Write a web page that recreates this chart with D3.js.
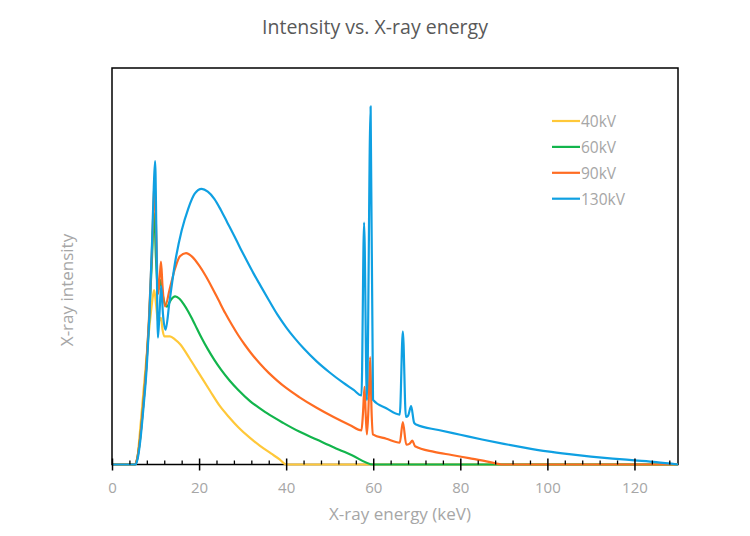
<!DOCTYPE html>
<html>
<head>
<meta charset="utf-8">
<script src="https://cdn.jsdelivr.net/npm/d3@7"></script>
<style>
  body { margin: 0; background: #fff; }
  text { font-family: "Open Sans", "Noto Sans", sans-serif; }
</style>
</head>
<body>
<div id="chart"></div>
<script>
// [energy keV, intensity (arbitrary, plot top = 100)]
const kv40 = [[0,0],[5.2,0],[5.8,1.5],[6.4,8],[7.2,18],[8.0,28],[8.8,37],[9.4,42.5],[9.7,44],[10.15,40],[10.6,35.7],
  [10.95,36.5],[11.25,37],[11.6,34],[12,32.3],[13.3,32.3],[14.5,31.5],[15.6,30.4],[17.8,26.8],[20.2,22.6],[22.5,18.6],
  [24.8,14.7],[27,11.8],[29,9.4],[31.7,6.7],[34,4.7],[36.5,2.8],[38.5,1.3],[40,0],[130,0]];

const kv60 = [[0,0],[5.2,0],[5.8,1.5],[6.4,6],[7.1,14],[7.9,25],[8.5,36],[9.1,50],[9.7,63.4],[10.1,52],[10.6,44],
  [11.1,46.5],[11.6,43],[12.6,39.8],[13.5,41.5],[14.5,42.4],[15.5,41.8],[16.5,40.4],[17.5,38.6],[18.5,36.5],
  [19.5,34.3],[20.5,32.1],[22,29.1],[23.5,26.4],[25,24],[27,21.2],[29,18.8],[31.7,16.0],[35.5,13.0],[39.3,10.5],
  [43,8.3],[47,6.3],[51,4.3],[55,2.4],[60,0],[130,0]];

const kv90 = [[0,0],[5.2,0],[5.8,1.5],[6.4,6],[7.1,14],[7.9,25],[8.5,37],[9.1,52],[9.5,64],[9.8,72],[10.15,58],
  [10.6,43],[10.95,47],[11.25,51.2],[11.6,45],[12.2,39.9],[13.2,44],[14.5,49.5],[15.6,52.5],[17.0,53.3],[18.5,52.3],
  [20,50.2],[21.5,47.6],[23,44.6],[24.5,41.4],[26,38.2],[27.5,35.3],[29,32.6],[30.5,30.2],[32,28],[34,25.4],
  [36,23.1],[38,21.1],[40,19.3],[43,17],[47,14.3],[51,11.9],[54.7,9.9],[57.3,8.6],[57.65,13],[58.0,19.6],[58.3,12],
  [58.55,7.6],[58.9,14],[59.3,27.1],[59.6,14],[59.9,7.6],[63,6.5],[66.1,5.5],[66.8,10.7],[67.6,5.0],[68.3,5.2],
  [69,6.0],[69.6,4.6],[74,3.2],[78,2.4],[82,1.6],[86,0.8],[89,0.1],[89.5,0],[130,0]];

const kv130 = [[0,0],[5.4,0],[5.9,1.5],[6.5,6],[7.2,14],[8.0,25],[8.6,38],[9.2,56],[9.6,70],[9.9,76.5],[10.2,58],
  [10.55,32],[10.9,38],[11.3,45],[11.7,38],[12.3,34],[13.2,41],[14.5,51],[16.0,59],[17.5,64.5],[19,68.3],[20.6,69.5],
  [22,68.8],[23.5,67],[25,64.2],[26.5,61],[28,57.8],[29.5,54.5],[31,51.3],[32.5,48.2],[34,45.3],[36,41.5],[38,37.8],
  [40,34.6],[42,31.8],[44,29.3],[47,26],[50,23.2],[53,20.7],[55.5,18.8],[57.3,17.4],[57.9,61],[58.55,16.2],
  [59.4,90.3],[59.95,16.3],[63,14.2],[66.1,12.6],[66.8,33.6],[67.5,12],[68.0,12.3],[68.7,14.7],[69.4,10.5],
  [70,10.0],[75,8.7],[80,7.5],[85,6.3],[90,5.2],[95,4.2],[100,3.3],[105,2.6],[110,2.0],[115,1.5],[120,1.05],
  [125,0.6],[130,0]];

const seriesNames = ["40kV", "60kV", "90kV", "130kV"];
const seriesData = [kv40, kv60, kv90, kv130];
const seriesColors = ["#FFC839", "#12B54C", "#FF6C22", "#0FA0E2"];
const majorTicks = [0, 20, 40, 60, 80, 100, 120];
const minorTicks = d3.range(0, 131, 4).filter(v => v % 20 !== 0);

const width = 750, height = 536;
const x = d3.scaleLinear().domain([0, 130]).range([112, 678]);
const y = d3.scaleLinear().domain([0, 100]).range([464.5, 68]);

const svg = d3.select("#chart").append("svg")
    .attr("width", width).attr("height", height);

// title
svg.append("text")
    .attr("x", 375).attr("y", 34)
    .attr("text-anchor", "middle")
    .attr("font-size", 19.5).attr("fill", "#595959")
    .text("Intensity vs. X-ray energy");

// plot frame
svg.append("rect")
    .attr("x", 112).attr("y", 68)
    .attr("width", 566).attr("height", 396.5)
    .attr("fill", "none").attr("stroke", "#000").attr("stroke-width", 1.5);

// lines
const line = d3.line()
    .x(d => x(d[0])).y(d => y(d[1]))
    .curve(d3.curveMonotoneX);

svg.append("g").selectAll("path").data(seriesData).join("path")
    .attr("d", line)
    .attr("fill", "none")
    .attr("stroke", (d, i) => seriesColors[i])
    .attr("stroke-width", 2.2)
    .attr("stroke-linejoin", "round");

// x axis, major ticks cross the line, minor ones point up
const xAxis = svg.append("g")
    .attr("transform", `translate(0,${y(0)})`)
    .call(d3.axisBottom(x).tickValues(majorTicks).tickSize(6).tickPadding(12));
xAxis.select(".domain").remove();
xAxis.selectAll(".tick line").attr("y1", -6).attr("stroke", "#000").attr("stroke-width", 1.5);
xAxis.selectAll(".tick text")
    .attr("font-size", 15).attr("fill", "#A6A6A6")
    .style("font-family", "'Open Sans', 'Noto Sans', sans-serif");

const minorAxis = svg.append("g")
    .attr("transform", `translate(0,${y(0)})`)
    .call(d3.axisTop(x).tickValues(minorTicks).tickSize(4).tickFormat(""));
minorAxis.select(".domain").remove();
minorAxis.selectAll(".tick line").attr("stroke", "#000").attr("stroke-width", 1.3);

// axis titles
svg.append("text")
    .attr("x", 400).attr("y", 520)
    .attr("text-anchor", "middle")
    .attr("font-size", 17).attr("fill", "#A6A6A6")
    .text("X-ray energy (keV)");

svg.append("text")
    .attr("transform", "translate(73,290) rotate(-90)")
    .attr("text-anchor", "middle")
    .attr("font-size", 17).attr("fill", "#A6A6A6")
    .text("X-ray intensity");

// legend
const legend = svg.append("g").selectAll("g").data(seriesNames).join("g")
    .attr("transform", (d, i) => `translate(552,${121 + i * 25.9})`);
legend.append("line")
    .attr("x1", 0).attr("x2", 28)
    .attr("stroke", (d, i) => seriesColors[i])
    .attr("stroke-width", 2.2);
legend.append("text")
    .attr("x", 29).attr("y", 6)
    .attr("font-size", 15.5).attr("fill", "#A6A6A6")
    .text(d => d);
</script>
</body>
</html>
